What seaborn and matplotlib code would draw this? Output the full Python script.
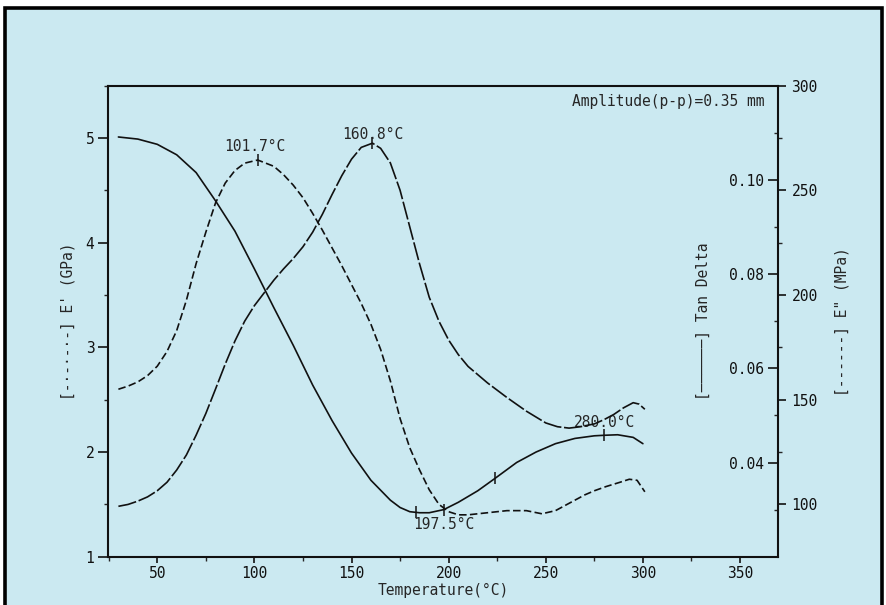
import numpy as np
import pandas as pd
import matplotlib
matplotlib.use("Agg")
import matplotlib.pyplot as plt
import seaborn as sns
from matplotlib.patches import Rectangle
from matplotlib.ticker import MultipleLocator, FixedLocator, FuncFormatter

# ---- storage modulus E' (GPa), solid line, left axis ----
temp_storage = [30, 40, 50, 60, 70, 80, 90, 100, 110, 120, 130, 140, 150, 160,
                170, 175, 180, 185, 190, 197.5, 205, 215, 224, 235, 245, 255,
                265, 275, 280, 287, 295, 300]
storage_gpa = [5.01, 4.99, 4.94, 4.84, 4.67, 4.40, 4.11, 3.75, 3.38, 3.02, 2.64,
               2.30, 1.99, 1.73, 1.54, 1.47, 1.43, 1.42, 1.42, 1.45, 1.52, 1.63,
               1.75, 1.90, 2.00, 2.08, 2.13, 2.155, 2.16, 2.165, 2.14, 2.08]

# ---- loss modulus E" (MPa), dashed line, outer right axis ----
temp_loss = [30, 35, 40, 45, 50, 55, 60, 65, 70, 75, 80, 85, 90, 95, 101.7, 110,
             115, 120, 125, 130, 135, 140, 145, 150, 155, 160, 165, 170, 175,
             180, 185, 190, 195, 200, 205, 210, 220, 230, 240, 248, 255, 260,
             265, 270, 275, 281, 288, 293, 297, 301]
loss_mpa = [155, 156.5, 158.5, 161.5, 166, 173, 183, 197.5, 215, 230, 244,
            253.5, 259.5, 263, 264.5, 261.5, 257.5, 252.5, 246.5, 239, 231,
            222.5, 214, 205, 196, 186, 174, 159, 141, 127, 116.5, 107, 100,
            96.5, 95, 95, 96, 97, 97, 95.5, 97, 99.5, 102, 104.5, 106.5, 108.5,
            110.5, 112, 111.5, 106]

# ---- tan delta, long-dash line, inner right axis ----
temp_tan = [30, 35, 40, 45, 50, 55, 60, 65, 70, 75, 80, 85, 90, 95, 100, 105,
            110, 115, 120, 125, 130, 135, 140, 145, 150, 155, 160.8, 165, 170,
            175, 180, 185, 190, 195, 200, 205, 210, 220, 230, 240, 250, 256,
            262, 268, 275, 280, 285, 290, 295, 298, 301]
tan_delta = [0.0307, 0.0311, 0.0318, 0.0327, 0.0340, 0.0358, 0.0384, 0.0416,
             0.0458, 0.0504, 0.0556, 0.0609, 0.0658, 0.0700, 0.0733, 0.0760,
             0.0787, 0.0811, 0.0833, 0.0858, 0.0889, 0.0927, 0.0969, 0.1009,
             0.1044, 0.1069, 0.1078, 0.1067, 0.1036, 0.0978, 0.0900, 0.0822,
             0.0751, 0.0700, 0.0660, 0.0629, 0.0604, 0.0569, 0.0538, 0.0509,
             0.0484, 0.0476, 0.0473, 0.0476, 0.0482, 0.0491, 0.0502, 0.0516,
             0.0527, 0.0524, 0.0513]

# annotated temperatures
loss_peak_t = 101.7
tan_peak_t = 160.8
storage_min_t = 197.5
storage_min_marks = [183.0, 197.5]
storage_rise_marks = [224.0, 280.0]
storage_max_t = 280.0

x_ticks = [50, 100, 150, 200, 250, 300, 350]
storage_ticks = [1, 2, 3, 4, 5]
tan_ticks = [0.04, 0.06, 0.08, 0.10]
loss_ticks = [100, 150, 200, 250, 300]

df_storage = pd.DataFrame({"T": temp_storage, "v": storage_gpa})
df_loss = pd.DataFrame({"T": temp_loss, "v": loss_mpa})
df_tan = pd.DataFrame({"T": temp_tan, "v": tan_delta})

sns.set_style("ticks")
plt.rcParams["font.family"] = ["DejaVu Sans Mono", "DejaVu Sans"]
plt.rcParams["font.size"] = 10

BG = "#cbe9f1"
INK = "#111111"
W, H = 886, 605

fig = plt.figure(figsize=(W / 100, H / 100), dpi=100, facecolor="white")
fig.add_artist(Rectangle((5 / W, -0.02), (882 - 5) / W, 1.02 - 8 / H,
                         transform=fig.transFigure, facecolor=BG,
                         edgecolor="black", lw=2.6, zorder=0))

ax = fig.add_axes([108.3 / W, 1 - 556.7 / H, 670 / W, 471 / H])
ax.set_facecolor("none")
ax_tan = ax.twinx()
ax_loss = ax.twinx()
for a in (ax_tan, ax_loss):
    a.set_facecolor("none")

lw = 1.2
sns.lineplot(data=df_storage, x="T", y="v", ax=ax, color=INK, lw=lw,
             sort=False, estimator=None)
sns.lineplot(data=df_tan, x="T", y="v", ax=ax_tan, color=INK, lw=lw,
             sort=False, estimator=None, linestyle=(0, (11, 1.6)))
sns.lineplot(data=df_loss, x="T", y="v", ax=ax_loss, color=INK, lw=lw,
             sort=False, estimator=None, linestyle=(0, (4.5, 2.0)))

# limits
ax.set_xlim(24.8, 369.7)
ax.set_ylim(1, 5.5)
ax_tan.set_ylim(0.02, 0.12)
ax_loss.set_ylim(75, 300)

# small vertical marks on the curves
def mark(a, ts, xs, ys, size=9):
    yy = np.interp(ts, xs, ys)
    a.plot(ts, yy, ls="none", marker="|", ms=size, mew=1.1, color=INK)
    return yy

lp = mark(ax_loss, [loss_peak_t], temp_loss, loss_mpa)[0]
tp = mark(ax_tan, [tan_peak_t], temp_tan, tan_delta)[0]
mark(ax, storage_min_marks + storage_rise_marks, temp_storage, storage_gpa)
smin = np.interp(storage_min_t, temp_storage, storage_gpa)
smax = np.interp(storage_max_t, temp_storage, storage_gpa)

fs = 10.5
ax_loss.annotate(f"{loss_peak_t:.1f}°C", (loss_peak_t, lp), xytext=(-2, 10),
                 textcoords="offset points", ha="center", va="center", fontsize=fs)
ax_tan.annotate(f"{tan_peak_t:.1f}°C", (tan_peak_t, tp), xytext=(0, 6.5),
                textcoords="offset points", ha="center", va="center", fontsize=fs)
ax.annotate(f"{storage_min_t:.1f}°C", (storage_min_t, smin), xytext=(0, -11),
            textcoords="offset points", ha="center", va="center", fontsize=fs)
ax.annotate(f"{storage_max_t:.1f}°C", (storage_max_t, smax), xytext=(0, 9.5),
            textcoords="offset points", ha="center", va="center", fontsize=fs)

ax.text(0.980, 0.966, "Amplitude(p-p)=0.35 mm", transform=ax.transAxes,
        ha="right", va="center", fontsize=fs)

# x axis
ax.xaxis.set_major_locator(FixedLocator(x_ticks))
ax.xaxis.set_minor_locator(MultipleLocator(25))
ax.tick_params(axis="x", which="major", direction="out", length=4, width=1.2,
               pad=2.5, labelsize=fs, colors=INK)
ax.tick_params(axis="x", which="minor", direction="out", length=3, width=1.0)

# left axis
ax.yaxis.set_major_locator(FixedLocator(storage_ticks))
ax.yaxis.set_minor_locator(MultipleLocator(0.5))
ax.tick_params(axis="y", which="major", direction="out", length=7, width=1.2,
               pad=3, labelsize=fs, colors=INK)
ax.tick_params(axis="y", which="minor", direction="out", length=3, width=1.0)

# tan delta axis: ticks point inward, labels inside the frame
ax_tan.yaxis.set_major_locator(FixedLocator(tan_ticks))
ax_tan.yaxis.set_minor_locator(FixedLocator([0.03, 0.05, 0.07, 0.09, 0.11]))
ax_tan.yaxis.set_major_formatter(FuncFormatter(lambda v, p: f"{v:.2f}"))
ax_tan.tick_params(axis="y", which="major", direction="in", length=7, width=1.2,
                   pad=-10, labelsize=fs, colors=INK)
ax_tan.tick_params(axis="y", which="minor", direction="in", length=3, width=1.0)

# loss modulus axis: outward ticks on the right
ax_loss.yaxis.set_major_locator(FixedLocator(loss_ticks))
ax_loss.yaxis.set_minor_locator(FixedLocator([125, 175, 225, 275]))
ax_loss.tick_params(axis="y", which="major", direction="out", length=6, width=1.2,
                    pad=3.5, labelsize=fs, colors=INK)
ax_loss.tick_params(axis="y", which="minor", direction="out", length=3, width=1.0)

for a in (ax, ax_tan, ax_loss):
    for s in a.spines.values():
        s.set_linewidth(1.5)
        s.set_color(INK)
ax.spines["right"].set_visible(False)
for s in ("left", "top", "bottom"):
    ax_tan.spines[s].set_visible(False)
    ax_loss.spines[s].set_visible(False)
ax_tan.spines["right"].set_visible(False)

# axis titles
ax.set_xlabel("Temperature(°C)", fontsize=fs)
ax.xaxis.set_label_coords(0.5, (556.7 - 590.5) / 471)
ax.xaxis.label.set_va("center")

ax.set_ylabel("[-·-·-·-] E' (GPa)", fontsize=fs)
ax.yaxis.set_label_coords((68 - 108.3) / 670, 0.5)
ax.yaxis.label.set_va("center")

ax_tan.set_ylabel("[──────] Tan Delta", fontsize=fs, rotation=90)
ax_tan.yaxis.set_label_coords((703 - 108.3) / 670, 0.5)
ax_tan.yaxis.label.set_va("center")

ax_loss.set_ylabel('[------] E" (MPa)', fontsize=fs, rotation=90)
ax_loss.yaxis.set_label_coords((842 - 108.3) / 670, 0.5)
ax_loss.yaxis.label.set_va("center")

for tick in ax_tan.yaxis.get_major_ticks():
    tick.label2.set_horizontalalignment("right")

fig.savefig("out.png", dpi=100, facecolor="white")
